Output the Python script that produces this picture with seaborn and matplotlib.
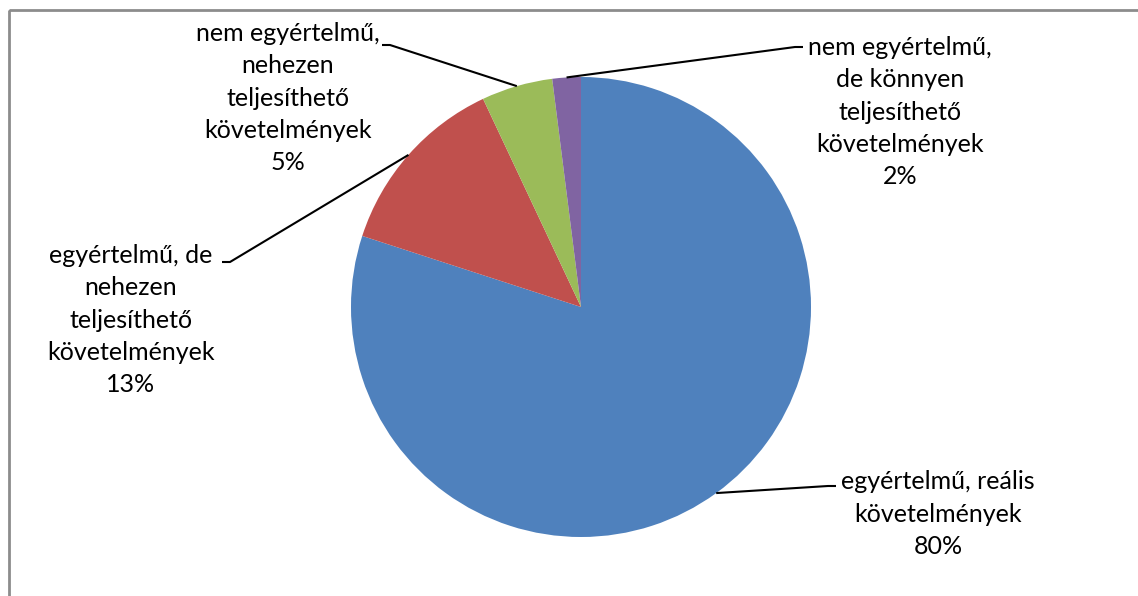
import numpy as np
import matplotlib
matplotlib.use("Agg")
from matplotlib import pyplot as plt
from matplotlib.patches import Rectangle
import seaborn as sns

# data
labels = ["egyértelmű, reális\nkövetelmények",
          "egyértelmű, de\nnehezen\nteljesíthető\nkövetelmények",
          "nem egyértelmű,\nnehezen\nteljesíthető\nkövetelmények",
          "nem egyértelmű,\nde könnyen\nteljesíthető\nkövetelmények"]
shares = [80, 13, 5, 2]
colors = ["#4F81BD", "#C0504D", "#9BBB59", "#8064A2"]

# label anchor (end of the short horizontal leader piece) and text centre, in pixels
label_pos = [(836, 486, 938, 514), (222, 262, 131, 320), (382, 45, 288, 98), (803, 47, 900, 112)]

sns.set_theme(style="white")
plt.rcParams['font.family'] = ['Lato', 'DejaVu Sans']

W, H = 1138, 596
fig = plt.figure(figsize=(W / 100, H / 100), dpi=100)
ax = fig.add_axes([0, 0, 1, 1])

cx, cy, r = 581, 307, 230
# y axis is inverted, so counterclock=True draws clockwise on screen
wedges, _ = ax.pie(shares, colors=colors, startangle=-90, counterclock=True,
                   center=(cx, cy), radius=r, frame=True,
                   wedgeprops=dict(linewidth=0))
ax.set_xlim(0, W)
ax.set_ylim(H, 0)
ax.axis("off")

total = sum(shares)
for w, lab, val, (lx, ly, tx, ty) in zip(wedges, labels, shares, label_pos):
    mid = np.deg2rad((w.theta1 + w.theta2) / 2)
    px, py = cx + r * np.cos(mid), cy + r * np.sin(mid)
    hx = lx - 8 if lx > cx else lx + 8
    ax.plot([px, hx, lx], [py, ly, ly], color="black", lw=1.5, solid_capstyle="butt")
    pct = round(100 * val / total)
    ax.text(tx, ty, f"{lab}\n{pct}%", ha="center", va="center", fontsize=18,
            linespacing=1.48, color="black")

ax.add_patch(Rectangle((9, 10), W + 20, H + 20, fill=False, edgecolor="#8c8c8c", lw=2, clip_on=True))

fig.savefig("out.png", dpi=100)
